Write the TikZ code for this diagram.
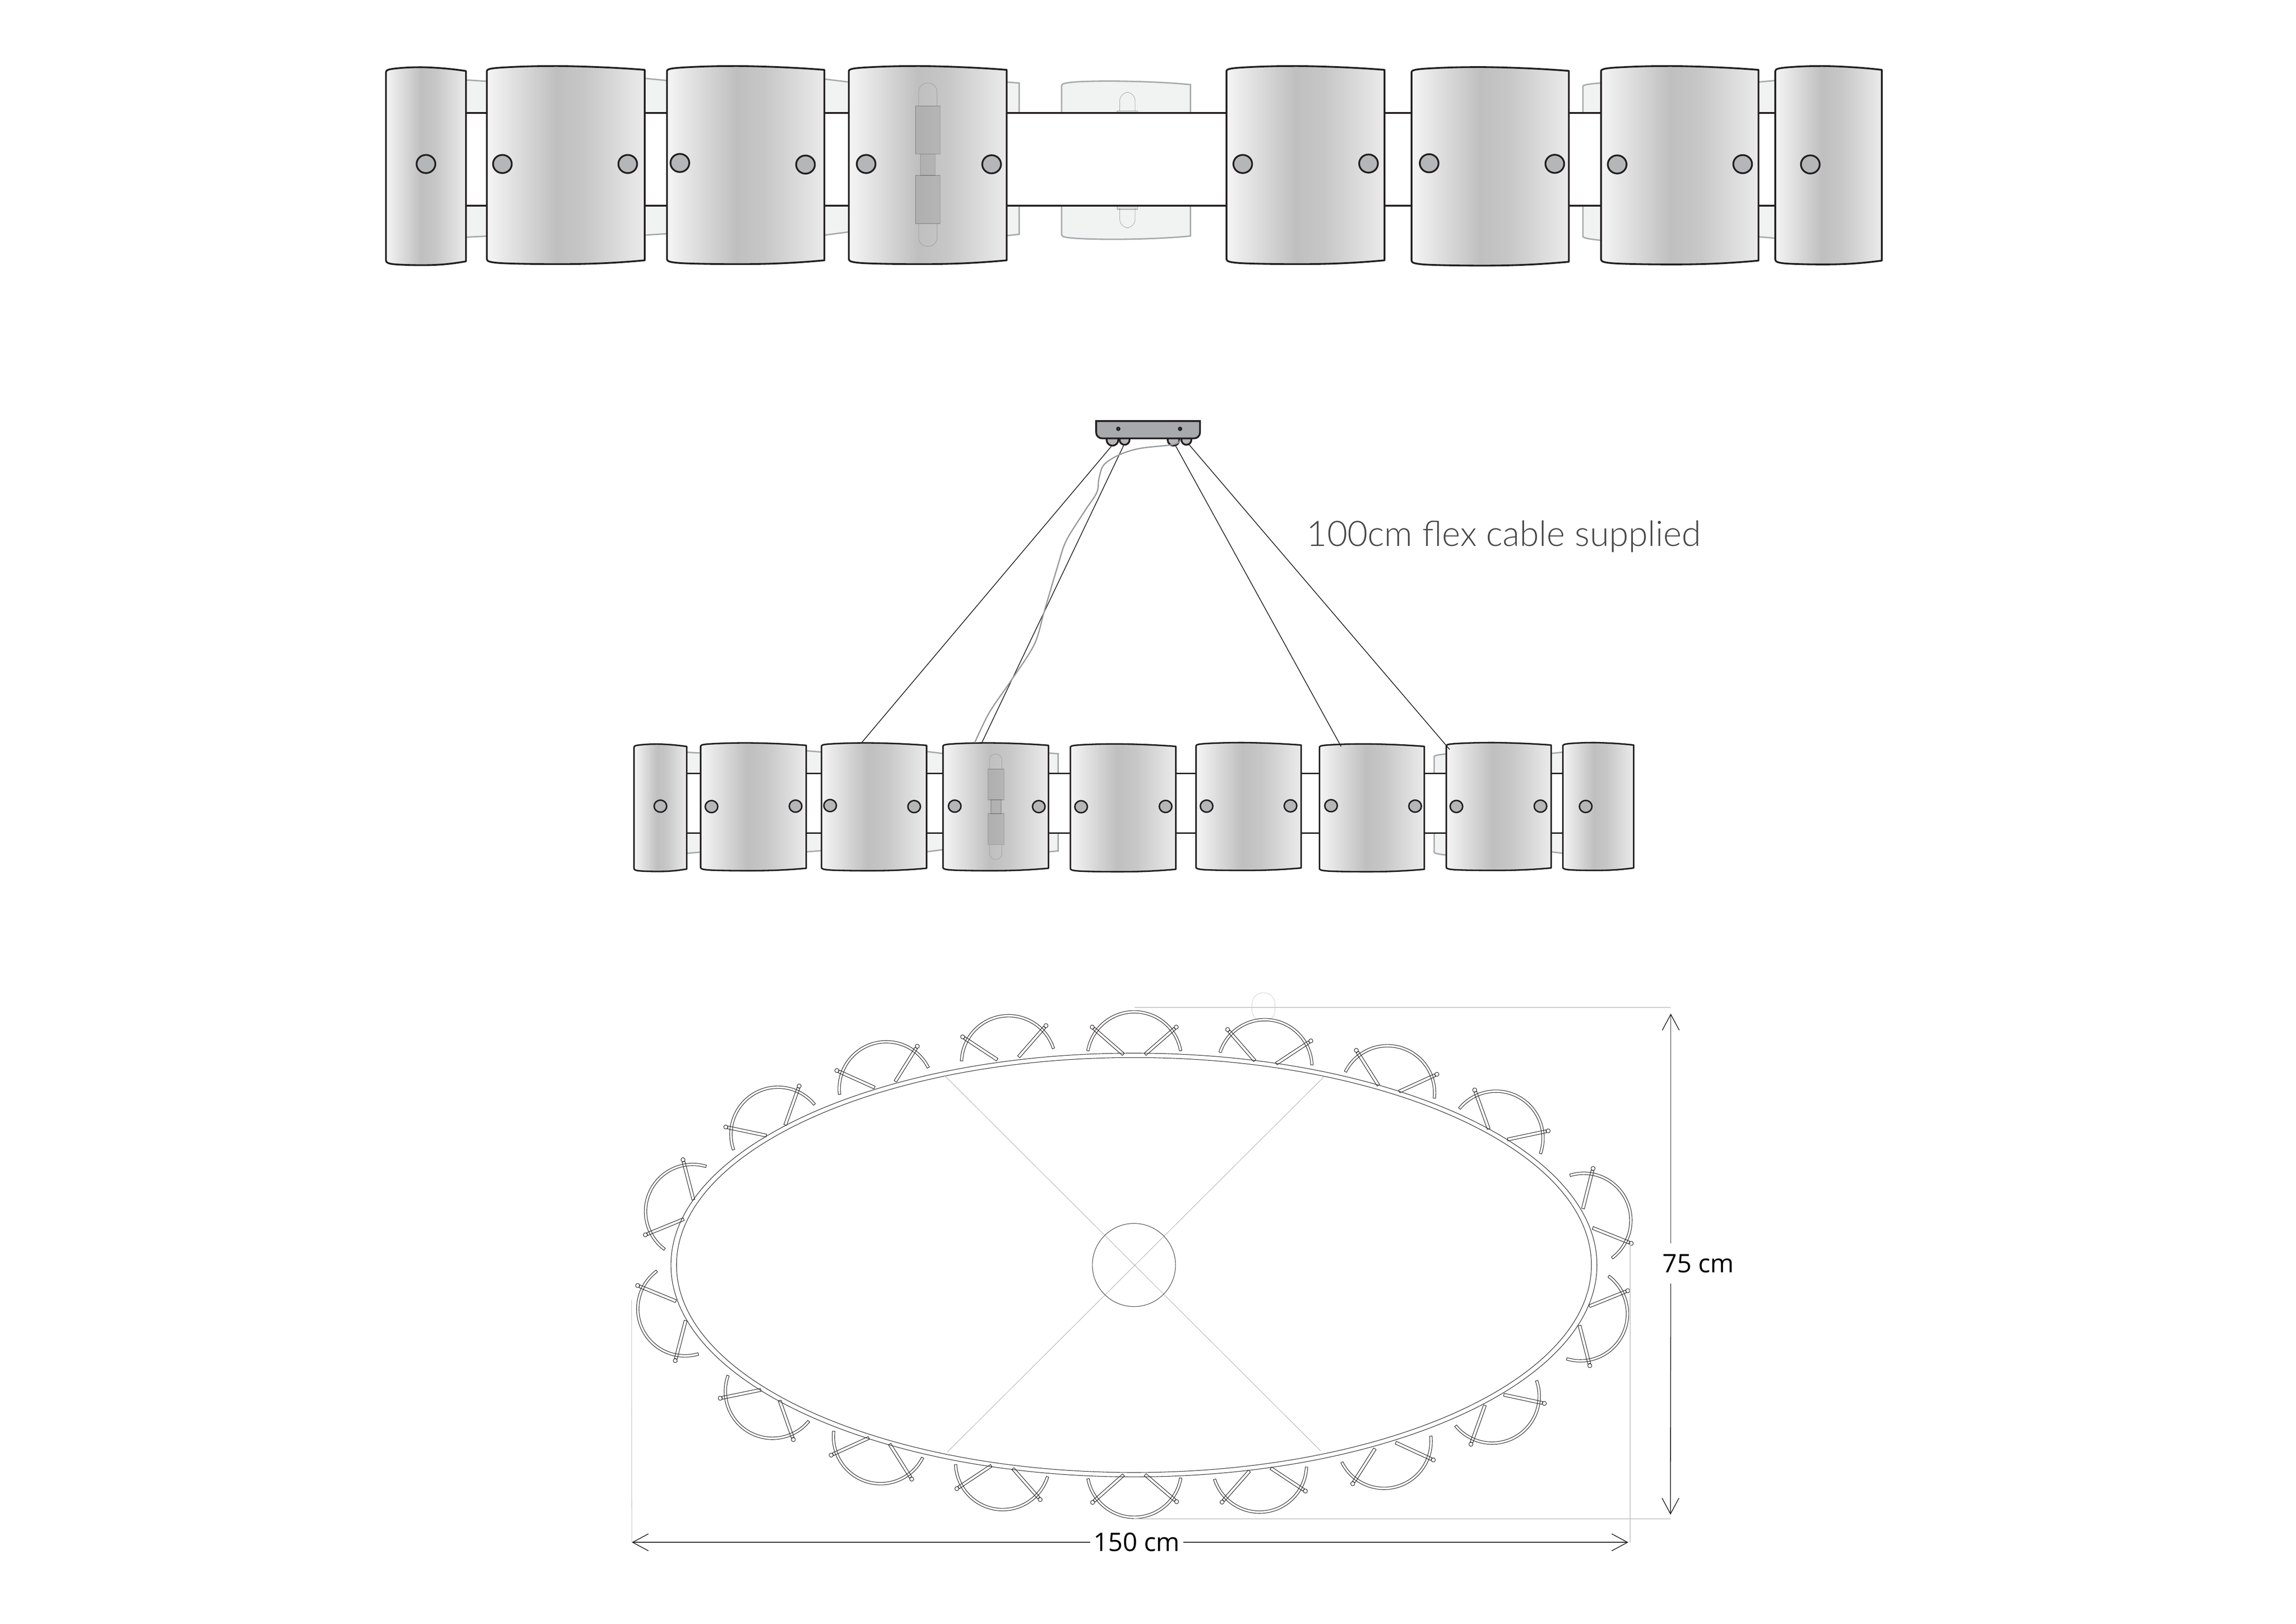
\documentclass[tikz,border=0pt]{standalone}
\usepackage{fontspec}
\usetikzlibrary{arrows.meta,positioning}
\newfontfamily\dimfont{Open Sans}
\newfontfamily\flexfont[UprightFont=* Light]{Lato}
\definecolor{linecol}{HTML}{231F20}
\definecolor{backedgecol}{HTML}{A7A9AC}
\definecolor{backfillcol}{HTML}{F1F2F2}
\definecolor{holecol}{HTML}{B5B6B8}
\definecolor{extcol}{HTML}{C8C9CA}
\pgfdeclarehorizontalshading{panelshade}{100bp}{
	color(0bp)=(white!96!black);
	color(25bp)=(white!96!black);
	color(47bp)=(black!25);
	color(56bp)=(black!22);
	color(75bp)=(white!92!black);
	color(100bp)=(white!92!black)
}
\tikzset{
	>={Straight Barb[length=5.4pt,width=5.8pt]}
}
\newcommand{\shadepanel}[5][]{%
	\pgfmathsetmacro{\pw}{#3-#2}%
	\pgfmathsetmacro{\pd}{(#5-#4)*.016}%
	\path[panel,#1] (#2,{#4+1.6*\pd})
		.. controls (#2,{#4+.9*\pd}) and ({#2+.03*\pw},{#4+.65*\pd}) .. ({#2+.12*\pw},{#4+.4*\pd})
		.. controls ({#2+.25*\pw},{#4+.05*\pd}) and ({#2+.35*\pw},#4) .. ({#2+.45*\pw},#4)
		.. controls ({#2+.65*\pw},{#4+.1*\pd}) and ({#2+.85*\pw},{#4+.6*\pd}) .. (#3,{#4+1.2*\pd})
		-- (#3,{#5-1.2*\pd})
		.. controls ({#3-.2*\pw},{#5-.3*\pd}) and ({#2+.65*\pw},#5) .. ({#2+.45*\pw},#5)
		.. controls ({#2+.3*\pw},#5) and ({#2+.14*\pw},{#5-.15*\pd}) .. ({#2+.08*\pw},{#5-.35*\pd})
		.. controls ({#2+.03*\pw},{#5-.55*\pd}) and (#2,{#5-.8*\pd}) .. (#2,{#5-1.5*\pd})
		-- cycle;%
}

\begin{document}
\begin{tikzpicture}[
x = .5pt,
y = -.5pt,
panel/.style = {
	shade,
	shading = panelshade,
	draw = linecol,
	line width = .6pt,
	line join = round
},
rail/.style = {
	draw = linecol,
	line width = .62pt
},
backfill/.style = {
	fill = backfillcol
},
backedge/.style = {
	draw = backedgecol,
	line width = .48pt
},
backpiece/.style = {
	fill = backfillcol,
	draw = backedgecol,
	line width = .48pt
},
hole/.style = {
	fill = holecol,
	draw = linecol,
	line width = .6pt
},
lampbody/.style = {
	fill = black,
	fill opacity = .08,
	draw = black!55,
	draw opacity = .5,
	line width = .2pt
},
bulb/.style = {
	draw = black!40,
	line width = .12pt,
	rounded corners = 3pt
},
plate/.style = {
	fill = backedgecol,
	draw = linecol,
	line width = .6pt
},
dome/.style = {
	circle,
	inner sep = 0pt,
	fill = holecol,
	draw = linecol,
	line width = .6pt
},
cable/.style = {
	draw = linecol,
	line width = .26pt
},
flex/.style = {
	draw = backedgecol!90!black,
	line width = .42pt
},
shadeline/.style = {
	draw = linecol,
	line width = .17pt,
	line join = round
},
guide/.style = {
	draw = black!30,
	line width = .16pt
},
extline/.style = {
	draw = extcol,
	line width = .3pt
},
thinext/.style = {
	draw = extcol,
	line width = .2pt
},
dimline/.style = {
	draw = linecol,
	line width = .25pt
},
dimlabel/.style = {
	inner sep = 0pt,
	font = \dimfont\fontsize{8.7}{10}\selectfont
}
]

\useasboundingbox (0,0) rectangle (1568,1109);

\foreach \xa/\xb/\ta/\tb/\ba/\bb in {318/332.5/54.6/55.5/162/161.3, 440.3/455.5/53.5/55/160.6/159.6, 563/579.7/54/56/160.6/158.4, 1200.9/1212.4/56/55/161.7/162.7}{
	\fill[backfill] (\xa,\ta) -- (\xb,\tb) -- (\xb,77) -- (\xa,77) -- cycle (\xa,140.6) -- (\xb,140.6) -- (\xb,\bb) -- (\xa,\ba) -- cycle;
	\draw[backedge] (\xa,\ta) -- (\xb,\tb) (\xa,\ba) -- (\xb,\bb);
}
\path[backpiece] (687,56) -- (696,56.7) -- (696,77) -- (687,77);
\path[backpiece] (687,161) -- (696,160) -- (696,140.6) -- (687,140.6);
\path[backpiece] (1094,77) -- (1081,77) -- (1081,59) .. controls (1081,58) and (1084,57.4) .. (1094,56.6);
\path[backpiece] (1094,140.6) -- (1081,140.6) -- (1081,161.4) .. controls (1081,162.4) and (1084,163.2) .. (1094,164.2);
\path[backpiece] (725,77) -- (725,58.5) .. controls (725,57) and (728,56.5) .. (735,55.9) .. controls (755,54.8) and (790,55.5) .. (813,57.8) -- (813,77) -- cycle;
\path[backpiece] (725,140.6) -- (725,160.3) .. controls (725,161.8) and (728,162.3) .. (735,162.8) .. controls (755,164) and (790,163.5) .. (813,161.2) -- (813,140.6) -- cycle;
\draw[bulb] (764.7,76) -- (764.7,63) -- (775.2,63) -- (775.2,76);
\draw[bulb] (764.7,142) -- (764.7,155.6) -- (775.2,155.6) -- (775.2,142);
\draw[lampbody] (763,75.7) rectangle (777,77);
\draw[lampbody] (763,141) rectangle (777,143);

\draw[rail] (290,77) -- (1236,77);
\draw[rail] (290,140.6) -- (1236,140.6);

\foreach \xa/\xb/\yt/\yb in {263.6/318.2/45.9/181.1, 332.5/440.3/45.1/180.4, 455.5/563/45.1/180.4, 579.7/687.5/45.1/180.4, 837.6/945.5/45.1/180.4, 964/1071.4/45.8/181.4, 1093.4/1200.9/45.1/180.6, 1212.4/1285.1/45.1/180.6}{
	\shadepanel{\xa}{\xb}{\yt}{\yb}
}

\foreach \hx/\hy in {290.9/112, 343.1/112, 428.7/112, 464.3/111.3, 550.1/112.4, 591.5/112, 677.2/112.2, 848.7/112, 934.6/111.7, 976/111.5, 1061.8/111.9, 1104.4/112.3, 1190.1/112.1, 1236.3/112.3}{
	\draw[hole] (\hx,\hy) ellipse [x radius=3.2pt, y radius=3.1pt];
}

\draw[lampbody] (625.3,72.4) rectangle (642,105.3);
\draw[lampbody] (628.6,105.3) rectangle (638.6,119.8);
\draw[lampbody] (625.3,119.8) rectangle (642,152.7);
\draw[bulb] (627.4,72.4) -- (627.4,56.7) -- (639.9,56.7) -- (639.9,72.4);
\draw[bulb] (627.4,152.7) -- (627.4,168.3) -- (639.9,168.3) -- (639.9,152.7);

\foreach \xa/\xb/\ta/\tb/\ba/\bb in {469/478.5/513.8/514.3/582.8/582, 550.6/561/512.8/513.6/581.8/581, 632.8/644/513.3/514.6/581.8/580.3, 1059.3/1067.3/514.6/513.7/581.8/582.8}{
	\fill[backfill] (\xa,\ta) -- (\xb,\tb) -- (\xb,528.2) -- (\xa,528.2) -- cycle (\xa,569) -- (\xb,569) -- (\xb,\bb) -- (\xa,\ba) -- cycle;
	\draw[backedge] (\xa,\ta) -- (\xb,\tb) (\xa,\ba) -- (\xb,\bb);
}
\path[backpiece] (716,514.3) -- (722.6,514.8) -- (722.6,528.2) -- (716,528.2);
\path[backpiece] (716,581.8) -- (722.6,581.2) -- (722.6,569) -- (716,569);
\path[backpiece] (988,528.2) -- (979.4,528.2) -- (979.4,516.8) .. controls (979.4,516) and (982,515.5) .. (988,514.9);
\path[backpiece] (988,569) -- (979.4,569) -- (979.4,582) .. controls (979.4,582.8) and (982,583.4) .. (988,584);

\draw[rail, line width=.55pt] (451,528.2) -- (1083,528.2);
\draw[rail, line width=.55pt] (451,569) -- (1083,569);

\foreach \xa/\xb/\yt/\yb in {433/469/508.2/595.2, 478.5/550.6/507.4/594.7, 561/632.8/507.4/594.7, 644/716/507.4/594.7, 731/803/508.1/595.4, 816.8/888.6/507.2/594.5, 901.1/972.7/508.1/595.4, 987.7/1059.3/507.2/594.5, 1067.3/1115.7/507.2/594.5}{
	\shadepanel[line width=.52pt]{\xa}{\xb}{\yt}{\yb}
}

\foreach \hx/\hy in {451/550.6, 485.9/550.9, 543.3/550.6, 566.9/550.2, 624.3/550.9, 652/550.6, 709.4/550.9, 738.3/551, 796/550.8, 824/550.6, 881.3/550.4, 909/550.3, 966.4/550.6, 994.6/550.8, 1052/550.6, 1082.9/550.8}{
	\draw[hole, line width=.5pt] (\hx,\hy) ellipse [x radius=2.15pt, y radius=2.05pt];
}

\draw[lampbody] (674.6,525.3) rectangle (685.6,546.3);
\draw[lampbody] (676.7,546.3) rectangle (683.6,555.7);
\draw[lampbody] (674.6,555.7) rectangle (685.6,576.8);
\draw[bulb, rounded corners=2pt] (675.8,525.3) -- (675.8,515) -- (684.2,515) -- (684.2,525.3);
\draw[bulb, rounded corners=2pt] (675.8,576.8) -- (675.8,587) -- (684.2,587) -- (684.2,576.8);

\node (dome1) [dome, minimum size=4pt] at (759.7,300.4) {};
\node (dome2) [dome, minimum size=3.4pt] at (768,300.4) {};
\node (dome3) [dome, minimum size=4pt] at (801.4,300.4) {};
\node (dome4) [dome, minimum size=3.4pt] at (810.2,300.4) {};

\path[plate] (748.6,287.6) -- (819.5,287.6) [rounded corners=2pt] -- (819.5,299.4) -- (748.6,299.4) [sharp corners] -- (748.6,287.6) -- cycle;
\foreach \sx in {763.7,805.9}{
	\fill[linecol] (\sx,292.9) circle [radius=.75pt];
	\fill[white] (\sx,292.9) circle [radius=.1pt];
}

\coordinate (hang1) at (588.2,507.5);
\coordinate (hang2) at (670.4,507.5);
\coordinate (hang3) at (915.9,509.9);
\coordinate (hang4) at (990,511.9);
\draw[cable] (dome1.-100) -- (hang1);
\draw[cable] (dome2.-100) -- (hang2);
\draw[cable] (dome3.-70) -- (hang3);
\draw[cable] (dome4.-60) -- (hang4);

\draw[flex] plot[smooth, tension=.55] coordinates {(806,300.6) (801.5,303.6) (778.8,306.2) (764.9,310.4) (754,317.3) (750.5,326.8) (749,336.4) (741,348.7) (728.2,369.2) (722.2,387) (713.3,417) (706.3,440.2) (690.5,464.8) (675.6,486.7) (665.7,507.2)};

\node (flexlabel) [anchor=base west, inner sep=0pt, text=black!72, font=\flexfont\fontsize{12}{14}\selectfont] at (892,372.9) {100cm flex cable supplied};

\draw[shadeline] (774.4,864) ellipse [x radius=158.1pt, y radius=72.35pt];
\draw[shadeline] (774.4,864) ellipse [x radius=156.2pt, y radius=70.85pt];
\draw[guide] (645,734.5) -- (902,991);
\draw[guide] (904,735.6) -- (647,991.7);
\draw[shadeline, draw=black!75] (774.4,864) circle [radius=14.2pt];

\draw[bulb, draw=black!22, rounded corners=3.9pt] (855,678) rectangle (870.7,697.7);

\foreach \mx/\my/\rot in {467.9/824.9/63.4, 528.5/769.7/29.2, 603.6/738.2/16.8, 688/720.2/7.7, 774.6/717.5/0, 864.6/722.9/-7.8, 949.2/740.9/-16.6, 1024.4/772.4/-29.1, 1086.7/830.9/-63, 1084.4/899.9/243.1, 1021.8/958.5/209.1, 946.8/989.9/196.4, 860.9/1006.3/187.6, 774.7/1009.9/180.5, 684/1004.6/172.5, 599.7/986.7/163.4, 524.7/955.2/150.5, 462.6/896.5/116.6}{
	\begin{scope}[shift={(\mx,\my)}, rotate=\rot]
		\draw[shadeline] (-32.5,0) arc [start angle=170, end angle=10, radius=16.5pt] -- (30.85,.3) arc [start angle=10, end angle=170, radius=15.65pt] -- cycle;
		\draw[shadeline] (-6.74,1.85) -- (-26.99,-15.83) -- (-28.31,-14.33) -- (-8.06,3.35) -- cycle;
		\draw[shadeline] (6.74,1.85) -- (26.99,-15.83) -- (28.31,-14.33) -- (8.06,3.35) -- cycle;
		\draw[shadeline] (-28.7,-16) circle [radius=.7pt];
		\draw[shadeline] (28.7,-16) circle [radius=.7pt];
	\end{scope}
}

\coordinate (exttop) at (774.9,687.9);
\coordinate (extbottom) at (774.2,1037.3);
\coordinate (dimtop) at (1141,692.3);
\coordinate (dimbottom) at (1140.8,1034.5);
\coordinate (dimleft) at (431.5,1053.4);
\coordinate (dimright) at (1112,1053.4);
\coordinate (extleft) at (431.3,887.8);
\coordinate (extright) at (1113.3,848.7);

\draw[extline] (exttop) -- (exttop -| dimtop);
\draw[extline] (extbottom) -- (extbottom -| dimtop);
\draw[thinext] (extleft) -- (dimleft);
\draw[thinext] (extright) -- (extright |- dimright);

\node (label75) [dimlabel, minimum height=13.4pt] at (1159.8,862.9) {75 cm};
\node (label150) [dimlabel, minimum width=31.35pt] at (776.3,1053.4) {150 cm};

\draw[dimline, ->] (label75.north -| dimtop) -- (dimtop);
\draw[dimline, ->] (label75.south -| dimtop) -- (dimbottom);
\draw[dimline, ->] (label150.west) -- (dimleft);
\draw[dimline, ->] (label150.east) -- (dimright);

\end{tikzpicture}
\end{document}
